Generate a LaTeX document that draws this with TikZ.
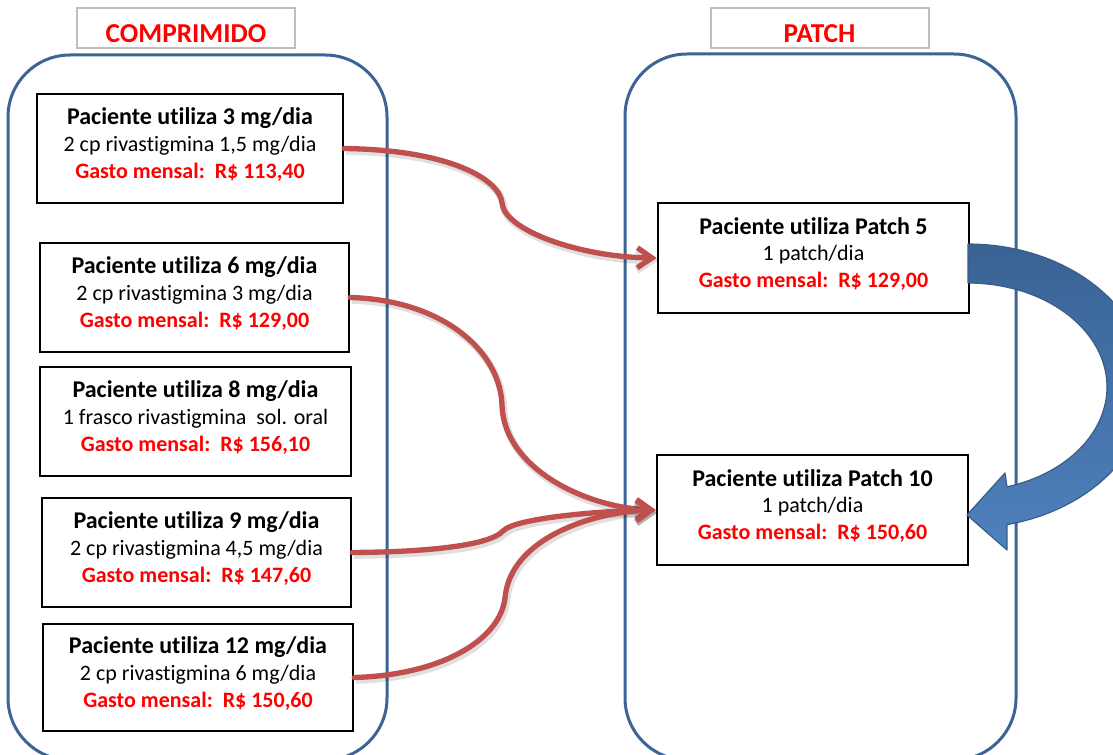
\documentclass[tikz,border=0pt]{standalone}
\usepackage{fontspec}
\setmainfont{Carlito}[Ligatures=NoCommon]
\usetikzlibrary{arrows.meta}
\definecolor{frameblue}{HTML}{3C6496}
\definecolor{arrowred}{HTML}{C0504D}
\definecolor{titlegray}{HTML}{BFBFBF}
\definecolor{bandtop}{HTML}{3A6394}
\definecolor{bandbot}{HTML}{4F81BD}
\definecolor{bandline}{HTML}{385D8A}
\newcommand{\boxlines}[3]{{\fontsize{18}{20}\selectfont\bfseries #1}\\#2\\{\bfseries\color{red}#3}}
\tikzset{
  frame/.style={draw=frameblue, line width=2.25pt, rounded corners=46.5pt},
  cbox/.style={draw=black, line width=2pt, fill=white, inner sep=0pt},
  btext/.style={align=center, inner sep=0pt, font=\fontsize{16.5}{20}\selectfont},
  tbox/.style={draw=titlegray, line width=1.5pt, fill=white, inner sep=0pt, minimum width=163.5pt, minimum height=30pt},
  ttext/.style={text=red, font=\fontsize{20.5}{24}\selectfont\bfseries, inner sep=0pt},
  redarrow/.style={draw=arrowred, line width=4pt, -{Straight Barb[length=11pt,width=15pt]}, line cap=round, line join=round,
    preaction={draw=black, draw opacity=0.12, line width=5.5pt, transform canvas={shift={(1.2pt,-2pt)}}}},
}
\begin{document}
\begin{tikzpicture}[x=0.75pt, y=-0.75pt]
\useasboundingbox (0,0) rectangle (1113,755);
\clip (0,0) rectangle (1113,755);
\fill[white] (0,0) rectangle (1113,755);

% big rounded frames
\draw[frame] (8,55) rectangle (387,760);
\draw[frame] (625,54) rectangle (1016,760);

% titles
\node[tbox] (tl) at (186,28) {};
\node[ttext] (tlt) at (186,34) {COMPRIMIDO};
\node[tbox] (tr) at (819.5,28) {};
\node[ttext] (trt) at (819.5,34) {PATCH};

% left boxes
\node[cbox, minimum width=229.5pt, minimum height=81.75pt] (c1) at (190,148.5) {};
\node[btext, yshift=3pt] (c1t) at (c1) {\boxlines{Paciente utiliza 3 mg/dia}{2 cp rivastigmina 1,5 mg/dia}{Gasto mensal:~~R\$ 113,40}};
\node[cbox, minimum width=231.75pt, minimum height=81.75pt] (c2) at (194.5,297.5) {};
\node[btext, yshift=3pt] (c2t) at (c2) {\boxlines{Paciente utiliza 6 mg/dia}{2 cp rivastigmina 3 mg/dia}{Gasto mensal:~~R\$ 129,00}};
\node[cbox, minimum width=233.25pt, minimum height=81.75pt] (c3) at (195.5,421.5) {};
\node[btext, yshift=3pt] (c3t) at (c3) {\boxlines{Paciente utiliza 8 mg/dia}{1 frasco rivastigmina~ sol. oral}{Gasto mensal:~~R\$ 156,10}};
\node[cbox, minimum width=231.75pt, minimum height=81.75pt] (c4) at (196.5,552.5) {};
\node[btext, yshift=3pt] (c4t) at (c4) {\boxlines{Paciente utiliza 9 mg/dia}{2 cp rivastigmina 4,5 mg/dia}{Gasto mensal:~~R\$ 147,60}};
\node[cbox, minimum width=232.5pt, minimum height=80.25pt] (c5) at (198,677.5) {};
\node[btext, yshift=3pt] (c5t) at (c5) {\boxlines{Paciente utiliza 12 mg/dia}{2 cp rivastigmina 6 mg/dia}{Gasto mensal:~~R\$ 150,60}};

% right boxes
\node[cbox, minimum width=233.25pt, minimum height=82.5pt] (p5) at (813.5,258) {};
\node[btext, yshift=3pt] (p5t) at (p5) {\boxlines{Paciente utiliza Patch 5}{1 patch/dia}{Gasto mensal:~~R\$ 129,00}};
\node[cbox, minimum width=233.25pt, minimum height=82.5pt] (p10) at (812.5,510) {};
\node[btext, yshift=3pt] (p10t) at (p10) {\boxlines{Paciente utiliza Patch 10}{1 patch/dia}{Gasto mensal:~~R\$ 150,60}};

% red connectors
\coordinate (m1) at (502,203);
\coordinate (m2) at (502,405);
\coordinate (m3) at (503,531);
\coordinate (m4) at (505,598);
\draw[redarrow] (c1.east) .. controls +(107,1.5) and +(-2,-23) .. (m1) .. controls +(2,27) and +(-78,-1) .. (p5.west);
\draw[redarrow] (c2.east) .. controls +(91,2.5) and +(-2,-55) .. (m2) .. controls +(2,65) and +(-67,-2) .. (p10.west);
\draw[redarrow] (c4.east) .. controls +(79,-0.5) and +(-13,14) .. (m3) .. controls +(12,-13) and +(-57,1) .. (p10.west);
\draw[redarrow] (c5.east) .. controls +(87,-2.5) and +(-5,42) .. (m4) .. controls +(5,-58) and +(-67,2) .. (p10.west);

% blue curved block arrow
\shadedraw[top color=bandtop, bottom color=bandbot, draw=bandline, line width=0.9pt, line join=round]
  plot[domain=90:-77.5, samples=60] ({968+180*cos(\x)},{386-142*sin(\x)})
  -- (1007,550) -- (967,515) -- (1005,473) -- (1007,487)
  -- plot[domain=-73.7:90, samples=60] ({968+139*cos(\x)},{387-104*sin(\x)}) -- cycle;
\end{tikzpicture}
\end{document}
